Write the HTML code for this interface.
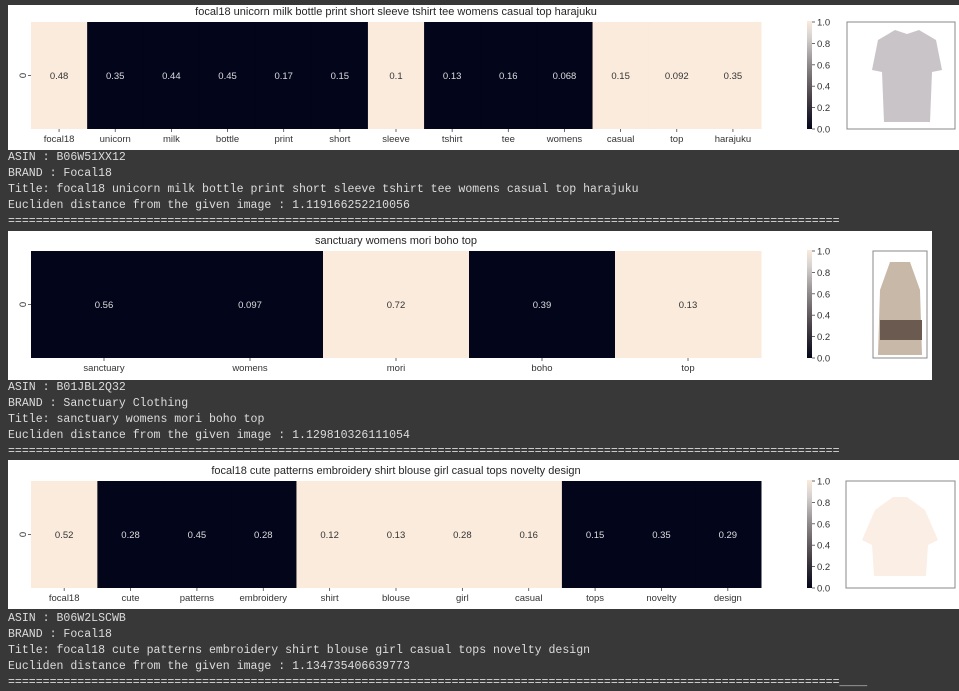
<!DOCTYPE html>
<html><head><meta charset="utf-8"><style>
body{margin:0;width:959px;height:689px;background:#383838;overflow:hidden;position:relative;font-family:"Liberation Sans",sans-serif}
.panel{position:absolute;background:#fff;left:8px}
.txt{position:absolute;left:8px;font-family:"Liberation Mono",monospace;font-size:11.55px;color:#dcdcdc;white-space:pre;line-height:16px}
svg{position:absolute;left:0;top:0}
</style></head><body>
<div class="panel" style="top:5px;height:145px;width:951px"></div>
<div class="panel" style="top:231px;height:149px;width:924px"></div>
<div class="panel" style="top:460px;height:149px;width:951px"></div>
<div class="txt" style="top:150px">ASIN : B06W51XX12
BRAND : Focal18
Title: focal18 unicorn milk bottle print short sleeve tshirt tee womens casual top harajuku
Eucliden distance from the given image : 1.119166252210056
========================================================================================================================</div>
<div class="txt" style="top:380px">ASIN : B01JBL2Q32
BRAND : Sanctuary Clothing
Title: sanctuary womens mori boho top
Eucliden distance from the given image : 1.129810326111054
========================================================================================================================</div>
<div class="txt" style="top:611px">ASIN : B06W2LSCWB
BRAND : Focal18
Title: focal18 cute patterns embroidery shirt blouse girl casual tops novelty design
Eucliden distance from the given image : 1.134735406639773
========================================================================================================================____</div>
<svg id="s" width="959" height="689">
<defs><linearGradient id="cb" x1="0" y1="1" x2="0" y2="0">
<stop offset="0" stop-color="#03051a"/><stop offset="0.3" stop-color="#4a4348"/><stop offset="0.6" stop-color="#8f8a8c"/><stop offset="0.85" stop-color="#d6d2d0"/><stop offset="1" stop-color="#faebdd"/></linearGradient></defs>
</svg>
<script>
const words1=["focal18","unicorn","milk","bottle","print","short","sleeve","tshirt","tee","womens","casual","top","harajuku"];
const vals1=["0.48","0.35","0.44","0.45","0.17","0.15","0.1","0.13","0.16","0.068","0.15","0.092","0.35"];
const light1=[1,0,0,0,0,0,1,0,0,0,1,1,1];
const words2=["sanctuary","womens","mori","boho","top"];
const vals2=["0.56","0.097","0.72","0.39","0.13"];
const light2=[0,0,1,0,1];
const words3=["focal18","cute","patterns","embroidery","shirt","blouse","girl","casual","tops","novelty","design"];
const vals3=["0.52","0.28","0.45","0.28","0.12","0.13","0.28","0.16","0.15","0.35","0.29"];
const light3=[1,0,0,0,1,1,1,1,0,0,0];
const ticks=["0.0","0.2","0.4","0.6","0.8","1.0"];
const titles=["focal18 unicorn milk bottle print short sleeve tshirt tee womens casual top harajuku","sanctuary womens mori boho top","focal18 cute patterns embroidery shirt blouse girl casual tops novelty design"];
const svg=document.getElementById('s');const NS='http://www.w3.org/2000/svg';
function mk(t,a,p){const e=document.createElementNS(NS,t);for(const k in a)e.setAttribute(k,a[k]);(p||svg).appendChild(e);return e;}
function draw(idx,words,vals,light,top,imgX,imgW){
 const x0=31,x1=761,y0=top,y1=top+107,w=(x1-x0)/words.length;
 const t=mk('text',{x:(x0+x1)/2,y:y0-7,'text-anchor':'middle','font-size':11,fill:'#262626'});t.textContent=titles[idx];
 
 words.forEach((wd,i)=>{
  const r=mk('rect',{x:x0+i*w,y:y0,width:w+0.5,height:y1-y0,fill:light[i]?'#faebdd':'#03051a'});
  
  const v=mk('text',{x:x0+i*w+w/2,y:(y0+y1)/2+3.5,'text-anchor':'middle','font-size':9.5,fill:light[i]?'#333':'#ddd'});v.textContent=vals[i];
  
  mk('line',{x1:x0+i*w+w/2,x2:x0+i*w+w/2,y1:y1,y2:y1+3,stroke:'#444','stroke-width':0.8});
  const l=mk('text',{x:x0+i*w+w/2,y:y1+13,'text-anchor':'middle','font-size':9.5,fill:'#333'});l.textContent=wd;
  
 });
 mk('line',{x1:x0-3,x2:x0,y1:(y0+y1)/2,y2:(y0+y1)/2,stroke:'#444','stroke-width':0.8});
 const z=mk('text',{x:x0-8,y:(y0+y1)/2,'text-anchor':'middle','font-size':9.5,fill:'#333',transform:`rotate(-90 ${x0-8} ${(y0+y1)/2})`,dy:3});z.textContent='0';
 const cx=807;const cb=mk('rect',{x:cx,y:y0-1,width:5,height:y1-y0+1,fill:'url(#cb)'});
 
 ticks.forEach((tk,i)=>{const yy=y1-(y1-y0)*i/(ticks.length-1);
  mk('line',{x1:cx+5,x2:cx+8,y1:yy,y2:yy,stroke:'#444','stroke-width':0.8});
  const tt=mk('text',{x:cx+10,y:yy+3.5,'font-size':9.5,fill:'#333'});tt.textContent=tk;
  });
 const b=mk('rect',{x:imgX,y:y0,width:imgW,height:y1-y0,fill:'#fff',stroke:'#888','stroke-width':1});
 
 return [x0,y0,y1];
}
draw(0,words1,vals1,light1,22,847,108);
draw(1,words2,vals2,light2,251,873,54);
draw(2,words3,vals3,light3,481,846,109);
// simple product silhouettes
mk('path',{d:'M878 40 L895 30 L907 34 L919 30 L936 40 L942 70 L932 72 L930 122 L884 122 L882 72 L872 70 Z',fill:'#c9c4c8'});
mk('path',{d:'M890 262 L910 262 L920 290 L922 355 L878 355 L880 290 Z',fill:'#c8b8a8'});
mk('rect',{x:880,y:320,width:42,height:20,fill:'#6a5a50'});
mk('path',{d:'M875 510 L893 497 L907 497 L925 510 L938 540 L928 545 L926 576 L874 576 L872 545 L862 540 Z',fill:'#fbeee4'});
</script>
</body></html>
